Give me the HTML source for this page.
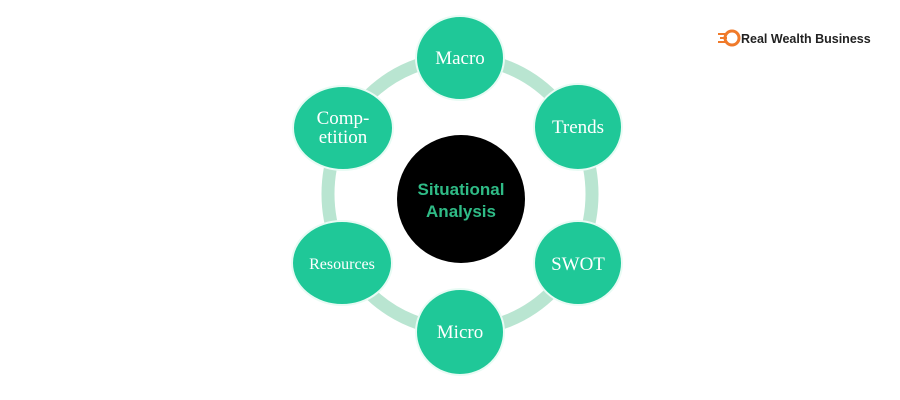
<!DOCTYPE html>
<html><head><meta charset="utf-8"><style>
html,body{margin:0;padding:0;background:#fff;width:900px;height:400px;overflow:hidden}
</style></head><body>
<svg width="900" height="400" viewBox="0 0 900 400" xmlns="http://www.w3.org/2000/svg">
<ellipse cx="460" cy="194" rx="132" ry="136" fill="none" stroke="#b9e5d1" stroke-width="13"/>
<g fill="#1fc898" stroke="#e8fbf4" stroke-width="2">
<ellipse cx="460" cy="58" rx="44" ry="42"/>
<ellipse cx="578" cy="127" rx="44" ry="43"/>
<ellipse cx="578" cy="263" rx="44" ry="42"/>
<ellipse cx="460" cy="332" rx="44" ry="43"/>
<ellipse cx="342" cy="263" rx="50" ry="42"/>
<ellipse cx="343" cy="128" rx="50" ry="42"/>
</g>
<circle cx="461" cy="199" r="64" fill="#000"/>
<g font-family="Liberation Serif, serif" fill="#ffffff" text-anchor="middle" font-size="19">
<text x="460" y="64">Macro</text>
<text x="578" y="133">Trends</text>
<text x="578" y="270">SWOT</text>
<text x="460" y="338">Micro</text>
<text x="342" y="269" font-size="16">Resources</text>
<text x="343" y="124">Comp-</text>
<text x="343" y="143">etition</text>
</g>
<g font-family="Liberation Sans, sans-serif" font-weight="bold" fill="#2fbb86" text-anchor="middle" font-size="17">
<text x="461" y="195">Situational</text>
<text x="461" y="217">Analysis</text>
</g>
<g fill="#f07a2a">
<circle cx="732" cy="38" r="7" fill="none" stroke="#f07a2a" stroke-width="3"/>
<rect x="718" y="33" width="9" height="2"/>
<rect x="720" y="37" width="7" height="2"/>
<rect x="718" y="41" width="9" height="2"/>
</g>
<text x="741" y="43" font-family="Liberation Sans, sans-serif" font-weight="bold" font-size="12.5" fill="#222">Real Wealth Business</text>
</svg>
</body></html>
